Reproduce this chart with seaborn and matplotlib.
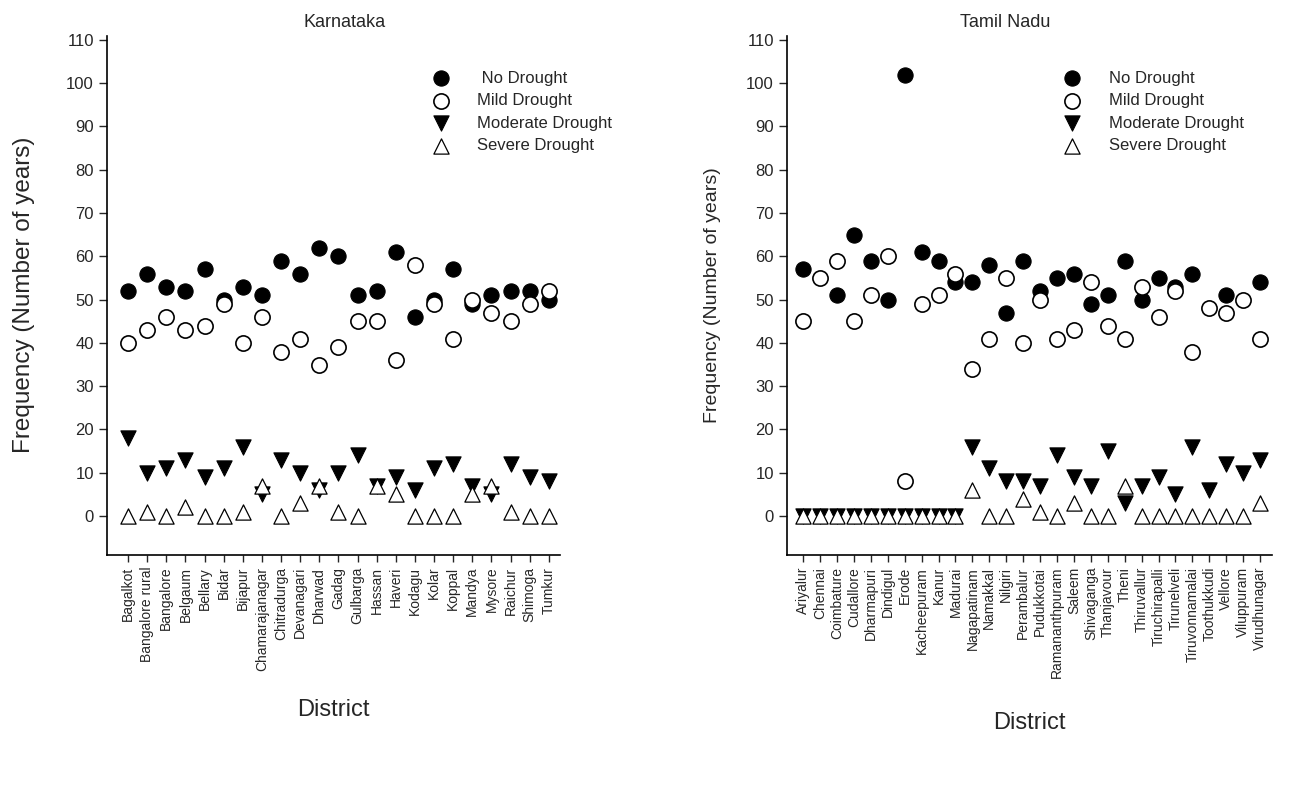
import numpy as np
import pandas as pd
import matplotlib
matplotlib.use('Agg')
import matplotlib.pyplot as plt
import seaborn as sns

# Karnataka districts and drought frequencies (years)
ka_districts = ['Bagalkot', 'Bangalore rural', 'Bangalore', 'Belgaum', 'Bellary', 'Bidar',
                'Bijapur', 'Chamarajanagar', 'Chitradurga', 'Devanagari', 'Dharwad', 'Gadag',
                'Gulbarga', 'Hassan', 'Haveri', 'Kodagu', 'Kolar', 'Koppal', 'Mandya',
                'Mysore', 'Raichur', 'Shimoga', 'Tumkur']
ka_no = [52, 56, 53, 52, 57, 50, 53, 51, 59, 56, 62, 60, 51, 52, 61, 46, 50, 57, 49, 51, 52, 52, 50]
ka_mild = [40, 43, 46, 43, 44, 49, 40, 46, 38, 41, 35, 39, 45, 45, 36, 58, 49, 41, 50, 47, 45, 49, 52]
ka_moderate = [18, 10, 11, 13, 9, 11, 16, 5, 13, 10, 6, 10, 14, 7, 9, 6, 11, 12, 7, 5, 12, 9, 8]
ka_severe = [0, 1, 0, 2, 0, 0, 1, 7, 0, 3, 7, 1, 0, 7, 5, 0, 0, 0, 5, 7, 1, 0, 0]

# Tamil Nadu districts and drought frequencies (years)
tn_districts = ['Ariyalur', 'Chennai', 'Coimbature', 'Cudallore', 'Dharmapuri', 'Dindigul',
                'Erode', 'Kacheepuram', 'Kanur', 'Madurai', 'Nagapatinam', 'Namakkal',
                'Nilgiri', 'Perambalur', 'Pudukkotai', 'Ramananthpuram', 'Saleem',
                'Shivaganga', 'Thanjavour', 'Theni', 'Thiruvallur', 'Tiruchirapalli',
                'Tirunelveli', 'Tiruvonnamalai', 'Toothukkudi', 'Vellore', 'Viluppuram',
                'Virudhunagar']
tn_no = [57, np.nan, 51, 65, 59, 50, 102, 61, 59, 54, 54, 58, 47, 59, 52, 55, 56, 49, 51, 59,
         50, 55, 53, 56, np.nan, 51, np.nan, 54]
tn_mild = [45, 55, 59, 45, 51, 60, 8, 49, 51, 56, 34, 41, 55, 40, 50, 41, 43, 54, 44, 41,
           53, 46, 52, 38, 48, 47, 50, 41]
tn_moderate = [0, 0, 0, 0, 0, 0, 0, 0, 0, 0, 16, 11, 8, 8, 7, 14, 9, 7, 15, 3,
               7, 9, 5, 16, 6, 12, 10, 13]
tn_severe = [0, 0, 0, 0, 0, 0, 0, 0, 0, 0, 6, 0, 0, 4, 1, 0, 3, 0, 0, 7,
             0, 0, 0, 0, 0, 0, 0, 3]

sns.set_style('white')
plt.rcParams['font.family'] = ['Liberation Sans', 'DejaVu Sans']

fig = plt.figure(figsize=(13.14, 7.9), dpi=100)
ax1 = fig.add_axes([0.0814, 0.2975, 0.345, 0.6575])
ax2 = fig.add_axes([0.599, 0.2975, 0.369, 0.6575])


def draw_panel(ax, districts, no, mild, moderate, severe, title, title_x, ylab_size, ylab_pad,
               xlab_pad, xlim, legend_x, no_label):
    df = pd.DataFrame({'pos': np.arange(len(districts)), 'no': no, 'mild': mild,
                       'moderate': moderate, 'severe': severe})
    sns.scatterplot(data=df, x='pos', y='no', ax=ax, marker='o', s=120, color='black',
                    edgecolor='black', linewidth=0.8, label=no_label, zorder=3)
    sns.scatterplot(data=df, x='pos', y='mild', ax=ax, marker='o', s=120, facecolor='white',
                    edgecolor='black', linewidth=1.2, label='Mild Drought', zorder=4)
    sns.scatterplot(data=df, x='pos', y='moderate', ax=ax, marker='v', s=120, color='black',
                    edgecolor='black', linewidth=0.8, label='Moderate Drought', zorder=5)
    sns.scatterplot(data=df, x='pos', y='severe', ax=ax, marker='^', s=120, facecolor='white',
                    edgecolor='black', linewidth=0.9, label='Severe Drought', zorder=6)

    ax.set_xlim(*xlim)
    ax.set_ylim(-9, 111)
    ax.set_yticks(range(0, 111, 10))
    ax.set_xticks(np.arange(len(districts)))
    ax.set_xticklabels(districts, rotation=90, fontsize=10)
    ax.tick_params(axis='y', labelsize=12, direction='out', length=6, width=1, left=True)
    ax.tick_params(axis='x', direction='out', length=5, width=1, bottom=True)
    for side in ['top', 'right']:
        ax.spines[side].set_visible(False)
    for side in ['left', 'bottom']:
        ax.spines[side].set_color('black')
        ax.spines[side].set_linewidth(1.2)
    ax.set_title(title, fontsize=13, x=title_x, pad=6)
    ax.set_xlabel('District', fontsize=17, labelpad=xlab_pad)
    ax.set_ylabel('Frequency (Number of years)', fontsize=ylab_size, labelpad=ylab_pad)
    ax.legend(loc='upper left', bbox_to_anchor=(legend_x, 0.945), frameon=False, fontsize=12,
              handletextpad=1.2, labelspacing=0.45, borderaxespad=0)


draw_panel(ax1, ka_districts, ka_no, ka_mild, ka_moderate, ka_severe, 'Karnataka', 0.525,
           17.5, 22, 20, (-1.1, 22.6), 0.685, ' No Drought')
draw_panel(ax2, tn_districts, tn_no, tn_mild, tn_moderate, tn_severe, 'Tamil Nadu', 0.45,
           14, 18, 24, (-0.95, 27.7), 0.54, 'No Drought')

fig.savefig('out.png', dpi=100)
